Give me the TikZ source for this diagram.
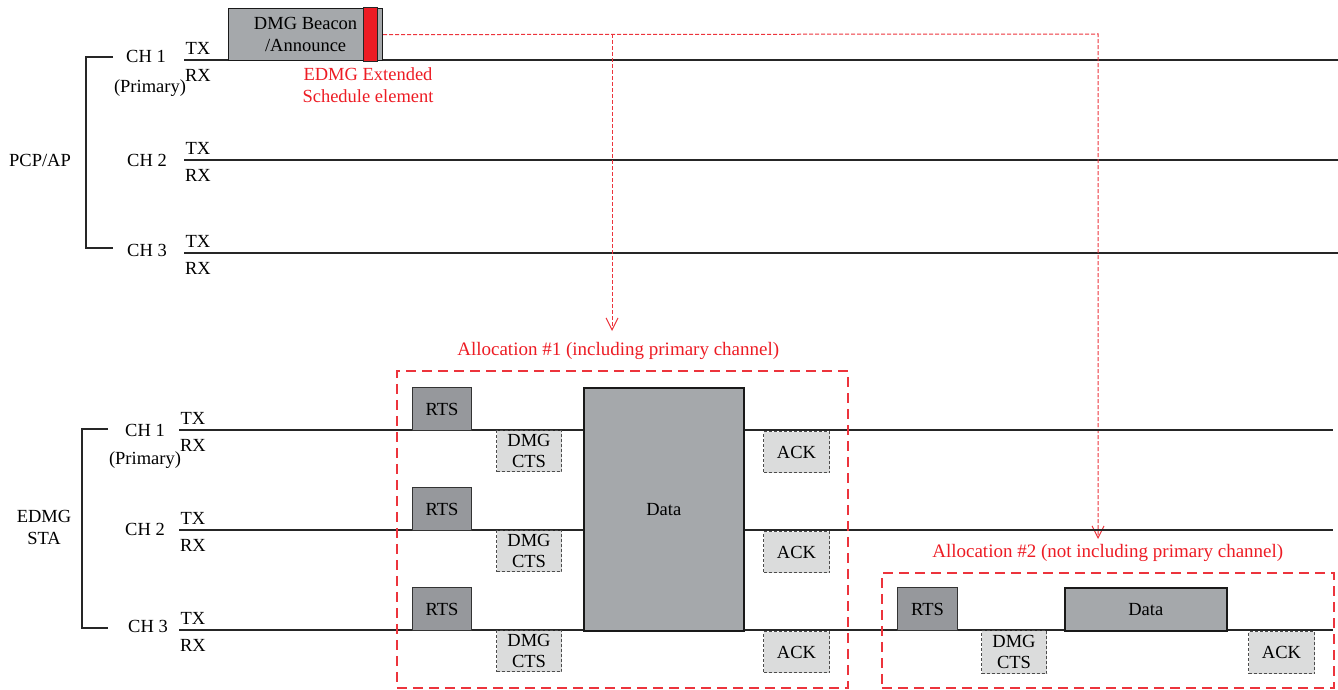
\documentclass[tikz,border=0pt]{standalone}
\usepackage{fontspec}
\setmainfont{Liberation Serif}
\usetikzlibrary{positioning,arrows.meta}
\definecolor{schedred}{RGB}{237,28,36}
\definecolor{allocred}{RGB}{236,52,60}
\definecolor{framedark}{RGB}{150,152,156}
\definecolor{framemid}{RGB}{165,168,171}
\definecolor{framelight}{RGB}{219,220,220}
\tikzset{
  every picture/.style = {
    font=\fontsize{18.5}{22}\selectfont
  },
  chline/.style={
    line width=1.1pt,
    black!85
  },
  bracket/.style={
    line width=1.4pt,
    black!85
  },
  rts/.style={
    anchor=north west,
    inner sep=0pt,
    draw=black!80,
    line width=1.2pt,
    fill=framedark
  },
  datafr/.style={
    anchor=north west,
    inner sep=0pt,
    draw=black!90,
    line width=1.6pt,
    fill=framemid
  },
  resp/.style={
    anchor=north west,
    inner sep=0pt,
    align=center,
    font=\fontsize{18.5}{21}\selectfont,
    draw=black!70,
    dash pattern=on 3pt off 2pt,
    line width=1pt,
    fill=framelight
  },
  alloc/.style={
    anchor=north west,
    draw=allocred,
    line width=1.5pt,
    dash pattern=on 10pt off 6pt
  },
  allocname/.style={
    text=schedred,
    font=\fontsize{19}{22}\selectfont,
    inner sep=2pt
  },
  schedlink/.style={
    draw=allocred,
    line width=1pt,
    dash pattern=on 4pt off 2pt,
    -{Straight Barb[length=12pt,width=12pt]}
  }
}

\begin{document}
\begin{tikzpicture}[x=1pt,y=-1pt]
    \useasboundingbox (0,0) rectangle (1338,690);
    % PCP/AP side
    \node (apname) at (40,160) {PCP/AP};
    \node (apch1) at (146,56) {CH 1};
    \node (apprim) at (150,88) {(Primary)};
    \node (apch2) at (147,160) {CH 2};
    \node (apch3) at (147,250) {CH 3};
    \draw[bracket] (113,57) -- (86,57) -- (86,248) -- (113,248);
    \foreach \n/\y in {1/60,2/160,3/253}{
        \node (aptx\n) at (198,\y-12) {TX};
        \node (aprx\n) at (198,\y+15) {RX};
        \coordinate (apl\n) at (184,\y);
        \coordinate (apr\n) at (1338,\y);
        \draw[chline] (apl\n) -- (apr\n);
    }
    % beacon with the schedule element
    \node[datafr, line width=1.2pt, minimum width=154pt, minimum height=52pt, align=center] (beacon) at (228,8) {DMG Beacon\\/Announce};
    \node[anchor=north west, draw=black!85, line width=1.2pt, fill=schedred, minimum width=14pt, minimum height=54pt, inner sep=0pt] (sched) at (363,7) {};
    \node[text=schedred, align=center] (schedname) at (368,85) {EDMG Extended\\Schedule element};
    \coordinate (split1) at (612,34);
    \coordinate (split2) at (1098,34);
    \coordinate (alloc1tip) at (612,331);
    \coordinate (alloc2tip) at (1098,539);
    \draw[schedlink] (beacon.east) -- (split2) -- (alloc2tip);
    \draw[schedlink] (split1) -- (alloc1tip);
    % EDMG STA side
    \node[align=center] (staname) at (44,527) {EDMG\\STA};
    \node (stach1) at (145,430) {CH 1};
    \node (staprim) at (145,460) {(Primary)};
    \node (stach2) at (145,529) {CH 2};
    \node (stach3) at (148,626) {CH 3};
    \draw[bracket] (108,429) -- (82,429) -- (82,628) -- (108,628);
    \foreach \n/\y in {1/430,2/530,3/630}{
        \node (statx\n) at (193,\y-12) {TX};
        \node (starx\n) at (193,\y+15) {RX};
        \coordinate (stal\n) at (179,\y);
        \coordinate (star\n) at (1333,\y);
        \draw[chline] (stal\n) -- (star\n);
        \node[rts, minimum width=59pt, minimum height=43pt] (rts\n) at (412,\y-43) {RTS};
        \node[resp, minimum width=65pt, minimum height=41pt] (cts\n) at (496,\y) {DMG\\CTS};
        \node[resp, minimum width=66pt, minimum height=41pt] (ack\n) at (763,\y+1) {ACK};
    }
    \node[datafr, minimum width=160pt, minimum height=243pt] (data1) at (583,387) {Data};
    % allocation #2
    \node[rts, minimum width=60pt, minimum height=43pt] (rtsb) at (897,587) {RTS};
    \node[resp, minimum width=65pt, minimum height=43pt] (ctsb) at (981,630) {DMG\\CTS};
    \node[datafr, minimum width=162pt, minimum height=43pt] (data2) at (1064,587) {Data};
    \node[resp, minimum width=66pt, minimum height=42pt] (ackb) at (1248,631) {ACK};
    % allocation frames
    \node[alloc, minimum width=451pt, minimum height=317pt] (alloc1) at (396,370) {};
    \node[alloc, minimum width=452pt, minimum height=115pt] (alloc2) at (881,572) {};
    \node[allocname, above=8pt of alloc1.north, xshift=-4pt] (alloc1name) {Allocation \#1 (including primary channel)};
    \node[allocname, above=8pt of alloc2.north] (alloc2name) {Allocation \#2 (not including primary channel)};
\end{tikzpicture}
\end{document}
